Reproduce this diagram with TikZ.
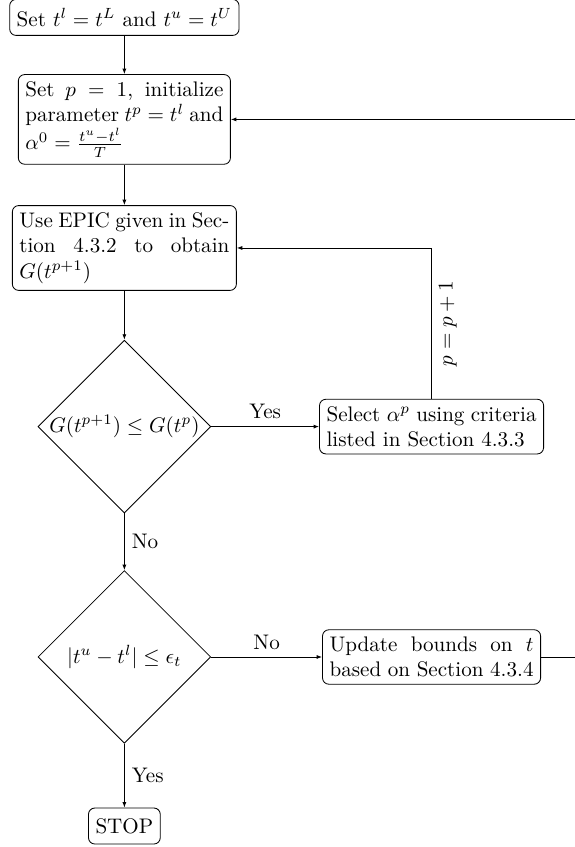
\documentclass[tikz,border=0pt]{standalone}
\usepackage{amsmath}
\usetikzlibrary{shapes.geometric, arrows.meta}

\begin{document}
\begin{tikzpicture}[>={Latex[length=2.6pt, width=1.9pt]},
  block/.style={draw, rounded corners=3pt, text width=3.5cm, align=justify},
  term/.style={draw, rounded corners=3pt, minimum height=6mm},
  decision/.style={draw, diamond, aspect=1, inner sep=0pt, minimum width=2.88cm, minimum height=2.88cm}]
  \useasboundingbox (0,0) rectangle (9.567,-14.117);

  % Nodes
  \node[term] (start) at (2.073,-0.29) {Set $t^l = t^L$ and $t^u = t^U$};
  \node[block, text width=3.3cm] (init) at (2.073,-1.99) {Set $p=1$, initialize parameter $t^p = t^l$ and $\alpha^0 = \frac{t^u - t^l}{T}$};
  \node[block] (epic) at (2.073,-4.133) {Use EPIC given in Section 4.3.2 to obtain $G(t^{p+1})$};
  \node[decision] (dec1) at (2.073,-7.11) {$G(t^{p+1}) \leq G(t^p)$};
  \node[block] (select) at (7.193,-7.11) {Select $\alpha^p$ using criteria listed in Section 4.3.3};
  \node[decision] (dec2) at (2.073,-10.95) {$|t^u - t^l| \leq \epsilon_t$};
  \node[block, text width=3.4cm] (update) at (7.193,-10.95) {Update bounds on $t$ based on Section 4.3.4};
  \node[term] (stop) at (2.073,-13.767) {STOP};
  \coordinate (loop) at (9.7,-1.99);

  % Edges
  \draw[->] (start) -- (init);
  \draw[->] (init) -- (epic);
  \draw[->] (epic) -- (dec1);
  \draw[->] (dec1) -- node[above]{Yes} (select);
  \draw[->] (select.north) |- node[pos=0.25, below, sloped]{$p=p+1$} (epic.east);
  \draw[->] (dec1) -- node[right]{No} (dec2);
  \draw[->] (dec2) -- node[above]{No} (update);
  \draw[->] (dec2) -- node[right]{Yes} (stop);
  \draw[->] (update) -| (loop) -- (init);
\end{tikzpicture}
\end{document}
